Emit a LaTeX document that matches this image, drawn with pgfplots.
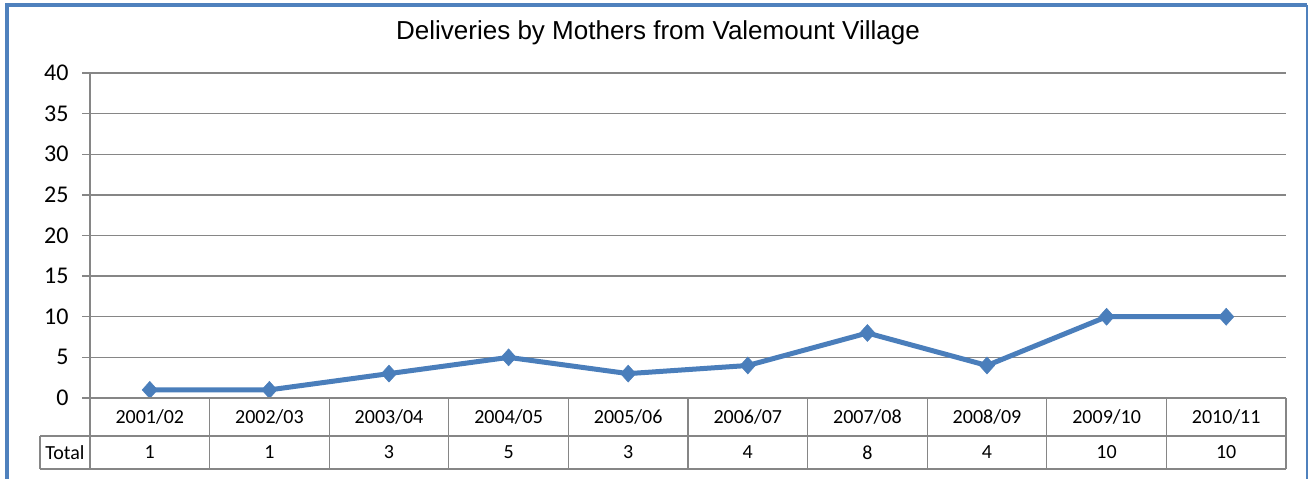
\documentclass[border=0pt]{standalone}
\usepackage{pgfplots}
\pgfplotsset{compat=1.18}
\usepackage{fontspec}
\setmainfont{Carlito}
\newfontfamily\titlefont{Liberation Sans}
\definecolor{frameblue}{RGB}{79,129,189}
\definecolor{lineblue}{RGB}{74,126,187}
\definecolor{gridgray}{RGB}{134,134,134}
\begin{document}
\begin{tikzpicture}[x=1pt,y=1pt]
\path[use as bounding box] (0,0) rectangle (1309,479);
\fill[white] (0,0) rectangle (1309,479);
\draw[frameblue, line width=4pt] (7,-5) -- (7,474) -- (1307,474);
\draw[frameblue, line width=2pt] (1307,474) -- (1307,-5);
\node[font=\titlefont\fontsize{26}{30}\selectfont] at (658,446.5) {Deliveries by Mothers from Valemount Village};
\begin{axis}[
  at={(90pt,81pt)}, anchor=south west,
  scale only axis, width=1196pt, height=325pt,
  xmin=-0.5, xmax=9.5, ymin=0, ymax=40,
  ytick={0,5,...,40}, xtick=\empty,
  ymajorgrids, grid style={gridgray, line width=1.3pt},
  axis line style={draw=none},
  ytick pos=left, tick align=outside, major tick length=8pt,
  major tick style={gridgray, line width=1.3pt},
  y tick label style={font=\fontsize{24}{24}\selectfont, xshift=-10pt},
  /pgf/number format/assume math mode=true,
  clip=false,
]
\addplot[lineblue, line width=5pt, mark=diamond*, mark size=8.5pt, mark options={solid, line width=0.5pt, fill=lineblue, xscale=1.2}]
  coordinates {(0,1) (1,1) (2,3) (3,5) (4,3) (5,4) (6,8) (7,4) (8,10) (9,10)};
\end{axis}
% data table below the axis
\draw[gridgray, line width=1.3pt] (90,406) -- (90,10);
\draw[gridgray, line width=1.3pt] (90,81) -- (1286,81);
\draw[gridgray, line width=1.3pt] (40,43) -- (1286,43);
\draw[gridgray, line width=1.3pt] (40,10) -- (1286,10);
\draw[gridgray, line width=1.3pt] (40,43) -- (40,10);
\foreach \k in {1,...,10} {
  \draw[gridgray, line width=1.3pt] ({90+119.6*\k},81) -- ({90+119.6*\k},10);
}
\node[font=\fontsize{20}{20}\selectfont] at (65,26.5) {Total};
\foreach \lab [count=\i from 0] in {2001/02,2002/03,2003/04,2004/05,2005/06,2006/07,2007/08,2008/09,2009/10,2010/11} {
  \node[font=\fontsize{20}{20}\selectfont] at ({90+119.6*(\i+0.5)},62) {\lab};
}
\foreach \v [count=\i from 0] in {1,1,3,5,3,4,8,4,10,10} {
  \node[font=\fontsize{20}{20}\selectfont] at ({90+119.6*(\i+0.5)},26.5) {\v};
}
\end{tikzpicture}
\end{document}
